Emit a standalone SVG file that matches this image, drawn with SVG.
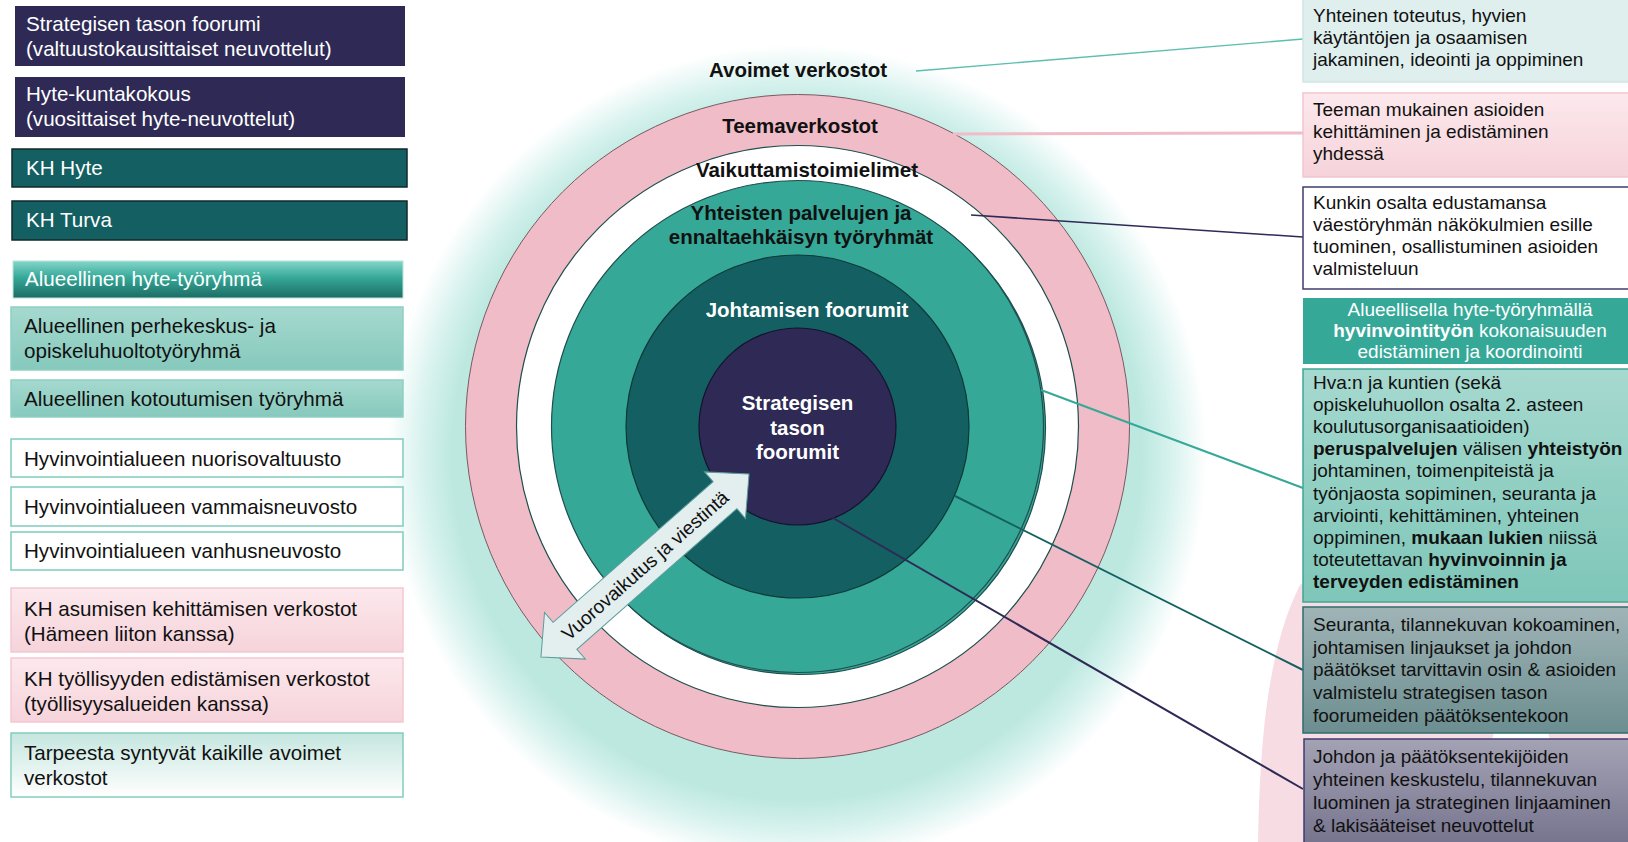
<svg xmlns="http://www.w3.org/2000/svg" width="1628" height="842" viewBox="0 0 1628 842">
<defs>
<radialGradient id="glow" gradientUnits="userSpaceOnUse" cx="797" cy="455" r="410">
<stop offset="0" stop-color="#bce8e0"/>
<stop offset="0.84" stop-color="#bce8e0"/>
<stop offset="0.92" stop-color="#daf3ef"/>
<stop offset="1" stop-color="#ffffff"/>
</radialGradient>
<linearGradient id="gHyte" x1="0" y1="0" x2="0" y2="1"><stop offset="0" stop-color="#84d6c9"/><stop offset="0.45" stop-color="#35a898"/><stop offset="1" stop-color="#1d6c64"/></linearGradient>
<linearGradient id="gTeal" x1="0" y1="0" x2="0" y2="1"><stop offset="0" stop-color="#a5d9cf"/><stop offset="1" stop-color="#86c9bc"/></linearGradient>
<linearGradient id="gPink" x1="0" y1="0" x2="0" y2="1"><stop offset="0" stop-color="#fce9ed"/><stop offset="1" stop-color="#f6d3da"/></linearGradient>
<linearGradient id="gOpen" x1="0" y1="0" x2="0" y2="1"><stop offset="0" stop-color="#c5e6df"/><stop offset="1" stop-color="#ffffff"/></linearGradient>
<linearGradient id="gR5" x1="0" y1="0" x2="0" y2="1"><stop offset="0" stop-color="#a6d9cf"/><stop offset="1" stop-color="#7ec6b8"/></linearGradient>
<linearGradient id="gR6" x1="0" y1="0" x2="0" y2="1"><stop offset="0" stop-color="#a0b4b6"/><stop offset="1" stop-color="#6c8e90"/></linearGradient>
<linearGradient id="gR7" x1="0" y1="0" x2="0" y2="1"><stop offset="0" stop-color="#a4a3b5"/><stop offset="1" stop-color="#74728c"/></linearGradient>
<style>
text{font-family:"Liberation Sans",Arial,sans-serif;}
.lt{font-size:20.6px;fill:#111;}
.lw{font-size:20.6px;fill:#fff;}
.rt{font-size:19px;fill:#111;}
.rw{font-size:19px;fill:#fff;}
.b{font-weight:bold;}
.cl{font-size:20.5px;font-weight:bold;text-anchor:middle;fill:#111;}
.cw{font-size:20.5px;font-weight:bold;text-anchor:middle;fill:#fff;}
.navy{fill:#2e2a55;}
.dk{fill:#135f62;stroke:#102a2b;stroke-width:1.5;}
.wb{fill:#fff;stroke:#7fcbbd;stroke-width:1.5;}
.tb{fill:url(#gTeal);stroke:#8dd0c3;stroke-width:1.5;}
.pb{fill:url(#gPink);stroke:#f3c8d1;stroke-width:1.5;}
.ln{fill:none;}
</style>
</defs>
<rect width="1628" height="842" fill="#fff"/>

<!-- background decorative shapes -->
<g id="background">
<ellipse cx="797" cy="455" rx="410" ry="410" fill="url(#glow)"/>
<path d="M1300,585 C1272,640 1260,720 1258,842 L1628,842 L1628,560 C1500,545 1340,555 1300,585 Z" fill="#f7dde3"/>
<ellipse cx="1521" cy="850" rx="43" ry="150" fill="#fff"/>
</g>

<!-- concentric circles -->
<g id="ring-avoimet"><text class="cl" x="798" y="77">Avoimet verkostot</text></g>
<g id="ring-teema">
<circle cx="797.5" cy="426.5" r="332" fill="#f0bcc7" stroke="#7a5a62" stroke-width="1"/>
<text class="cl" x="800" y="133">Teemaverkostot</text>
</g>
<g id="ring-vaikuttamis">
<circle cx="797.5" cy="426.5" r="281" fill="#fff" stroke="#1f4e4e" stroke-width="1.2"/>
<text class="cl" x="807" y="177">Vaikuttamistoimielimet</text>
</g>
<g id="ring-yhteiset">
<circle cx="799.5" cy="428.5" r="246" fill="#35a898" stroke="#1f4e4e" stroke-width="1.2"/>
<circle cx="797.5" cy="426.5" r="246" fill="#35a898" stroke="#1f4e4e" stroke-width="1.2"/>
<text class="cl" x="801" y="220">Yhteisten palvelujen ja</text>
<text class="cl" x="801" y="244">ennaltaehkäisyn työryhmät</text>
</g>
<g id="ring-johtamis">
<circle cx="797.5" cy="426.5" r="171.5" fill="#135f62" stroke="#0e3838" stroke-width="1.2"/>
<text class="cw" x="807" y="317">Johtamisen foorumit</text>
</g>
<g id="ring-strateginen">
<circle cx="797.5" cy="426.5" r="98.5" fill="#2e2a55" stroke="#15132e" stroke-width="1.2"/>
<text class="cw" x="797.5" y="410">Strategisen</text>
<text class="cw" x="797.5" y="435">tason</text>
<text class="cw" x="797.5" y="459">foorumit</text>
</g>

<!-- double arrow -->
<g id="arrow-vuorovaikutus" transform="translate(645,565.5) rotate(-41.3)">
<polygon points="138.5,0 106.5,-31 106.5,-18 -106.5,-18 -106.5,-31 -138.5,0 -106.5,31 -106.5,18 106.5,18 106.5,31" fill="#e3eeee" stroke="#5c9c9c" stroke-width="1"/>
<text x="0" y="0" dy="0.35em" text-anchor="middle" style="font-size:19px;fill:#111;">Vuorovaikutus ja viestintä</text>
</g>

<!-- connectors -->
<g id="connectors" class="ln">
<line x1="916" y1="71" x2="1303" y2="39" stroke="#5bbfae" stroke-width="1.3"/>
<line x1="953" y1="134" x2="1303" y2="133" stroke="#f0bcc8" stroke-width="3"/>
<line x1="971" y1="215" x2="1303" y2="237" stroke="#2e2a55" stroke-width="1.6"/>
<line x1="1041" y1="390" x2="1303" y2="488" stroke="#35a898" stroke-width="2"/>
<line x1="955" y1="496" x2="1303" y2="670" stroke="#135f62" stroke-width="2"/>
<line x1="833" y1="518" x2="1303" y2="789" stroke="#2e2a55" stroke-width="2"/>
</g>

<!-- left legend boxes -->
<g id="L1"><rect x="15" y="6" width="390" height="60" class="navy"/>
<text class="lw" x="26" y="31">Strategisen tason foorumi</text><text class="lw" x="26" y="56">(valtuustokausittaiset neuvottelut)</text></g>
<g id="L2"><rect x="15" y="77" width="390" height="60" class="navy"/>
<text class="lw" x="26" y="101">Hyte-kuntakokous</text><text class="lw" x="26" y="126">(vuosittaiset hyte-neuvottelut)</text></g>
<g id="L3"><rect x="12" y="149" width="395" height="38" class="dk"/>
<text class="lw" x="26" y="175">KH Hyte</text></g>
<g id="L4"><rect x="12" y="201" width="395" height="39" class="dk"/>
<text class="lw" x="26" y="227">KH Turva</text></g>
<g id="L5"><rect x="13" y="261" width="390" height="37" fill="url(#gHyte)" stroke="#b9e3dc" stroke-width="1"/>
<text class="lw" x="25" y="286">Alueellinen hyte-työryhmä</text></g>
<g id="L6"><rect x="11" y="307" width="392" height="63" class="tb"/>
<text class="lt" x="24" y="333">Alueellinen perhekeskus- ja</text><text class="lt" x="24" y="357.5">opiskeluhuoltotyöryhmä</text></g>
<g id="L7"><rect x="11" y="380" width="392" height="37" class="tb"/>
<text class="lt" x="24" y="406">Alueellinen kotoutumisen työryhmä</text></g>
<g id="L8"><rect x="11" y="439" width="392" height="38" class="wb"/>
<text class="lt" x="24" y="466">Hyvinvointialueen nuorisovaltuusto</text></g>
<g id="L9"><rect x="11" y="487" width="392" height="39" class="wb"/>
<text class="lt" x="24" y="514">Hyvinvointialueen vammaisneuvosto</text></g>
<g id="L10"><rect x="11" y="532" width="392" height="38" class="wb"/>
<text class="lt" x="24" y="558">Hyvinvointialueen vanhusneuvosto</text></g>
<g id="L11"><rect x="11" y="588" width="392" height="64" class="pb"/>
<text class="lt" x="24" y="615.5">KH asumisen kehittämisen verkostot</text><text class="lt" x="24" y="640.5">(Hämeen liiton kanssa)</text></g>
<g id="L12"><rect x="11" y="658" width="392" height="64" class="pb"/>
<text class="lt" x="24" y="685.5">KH työllisyyden edistämisen verkostot</text><text class="lt" x="24" y="710.5">(työllisyysalueiden kanssa)</text></g>
<g id="L13"><rect x="11" y="733" width="392" height="64" fill="url(#gOpen)" stroke="#84cdbf" stroke-width="1.5"/>
<text class="lt" x="24" y="760">Tarpeesta syntyvät kaikille avoimet</text><text class="lt" x="24" y="785">verkostot</text></g>

<!-- right description boxes -->
<g id="R1"><rect x="1303" y="-1" width="330" height="83" fill="#dfefee" stroke="#cfe6e4" stroke-width="1.5"/>
<text class="rt" x="1313" y="22">Yhteinen toteutus, hyvien</text><text class="rt" x="1313" y="44">käytäntöjen ja osaamisen</text><text class="rt" x="1313" y="66">jakaminen, ideointi ja oppiminen</text></g>
<g id="R2"><rect x="1303" y="93" width="330" height="84" fill="url(#gPink)" stroke="#f2c5cf" stroke-width="1.5"/>
<text class="rt" x="1313" y="116">Teeman mukainen asioiden</text><text class="rt" x="1313" y="138">kehittäminen ja edistäminen</text><text class="rt" x="1313" y="160">yhdessä</text></g>
<g id="R3"><rect x="1303" y="187" width="330" height="102" fill="#fff" stroke="#3f3d6e" stroke-width="1.5"/>
<text class="rt" x="1313" y="209">Kunkin osalta edustamansa</text><text class="rt" x="1313" y="231">väestöryhmän näkökulmien esille</text><text class="rt" x="1313" y="253">tuominen, osallistuminen asioiden</text><text class="rt" x="1313" y="275">valmisteluun</text></g>
<g id="R4"><rect x="1303" y="298" width="330" height="66" fill="#35a898"/>
<text class="rw" x="1470" y="316" text-anchor="middle">Alueellisella hyte-työryhmällä</text>
<text class="rw" x="1470" y="337" text-anchor="middle"><tspan class="b">hyvinvointityön</tspan> kokonaisuuden</text>
<text class="rw" x="1470" y="358" text-anchor="middle">edistäminen ja koordinointi</text></g>
<g id="R5"><rect x="1303" y="369" width="330" height="233" fill="url(#gR5)" stroke="#3ea797" stroke-width="1.5"/>
<text class="rt" x="1313" y="389">Hva:n ja kuntien (sekä</text>
<text class="rt" x="1313" y="411.1">opiskeluhuollon osalta 2. asteen</text>
<text class="rt" x="1313" y="433.2">koulutusorganisaatioiden)</text>
<text class="rt" x="1313" y="455.3"><tspan class="b">peruspalvelujen</tspan> välisen <tspan class="b">yhteistyön</tspan></text>
<text class="rt" x="1313" y="477.4">johtaminen, toimenpiteistä ja</text>
<text class="rt" x="1313" y="499.5">työnjaosta sopiminen, seuranta ja</text>
<text class="rt" x="1313" y="521.6">arviointi, kehittäminen, yhteinen</text>
<text class="rt" x="1313" y="543.7">oppiminen, <tspan class="b">mukaan lukien</tspan> niissä</text>
<text class="rt" x="1313" y="565.8">toteutettavan <tspan class="b">hyvinvoinnin ja</tspan></text>
<text class="rt b" x="1313" y="587.9">terveyden edistäminen</text></g>
<g id="R6"><rect x="1303" y="607" width="330" height="126" fill="url(#gR6)" stroke="#2c6d6f" stroke-width="1.5"/>
<text class="rt" x="1313" y="631">Seuranta, tilannekuvan kokoaminen,</text>
<text class="rt" x="1313" y="653.7">johtamisen linjaukset ja johdon</text>
<text class="rt" x="1313" y="676.4">päätökset tarvittavin osin &amp; asioiden</text>
<text class="rt" x="1313" y="699.1">valmistelu strategisen tason</text>
<text class="rt" x="1313" y="721.8">foorumeiden päätöksentekoon</text></g>
<g id="R7"><rect x="1304" y="739" width="330" height="110" fill="url(#gR7)" stroke="#3f3d6e" stroke-width="1.5"/>
<text class="rt" x="1313" y="763">Johdon ja päätöksentekijöiden</text>
<text class="rt" x="1313" y="786">yhteinen keskustelu, tilannekuvan</text>
<text class="rt" x="1313" y="809">luominen ja strateginen linjaaminen</text>
<text class="rt" x="1313" y="832">&amp; lakisääteiset neuvottelut</text></g>
</svg>
